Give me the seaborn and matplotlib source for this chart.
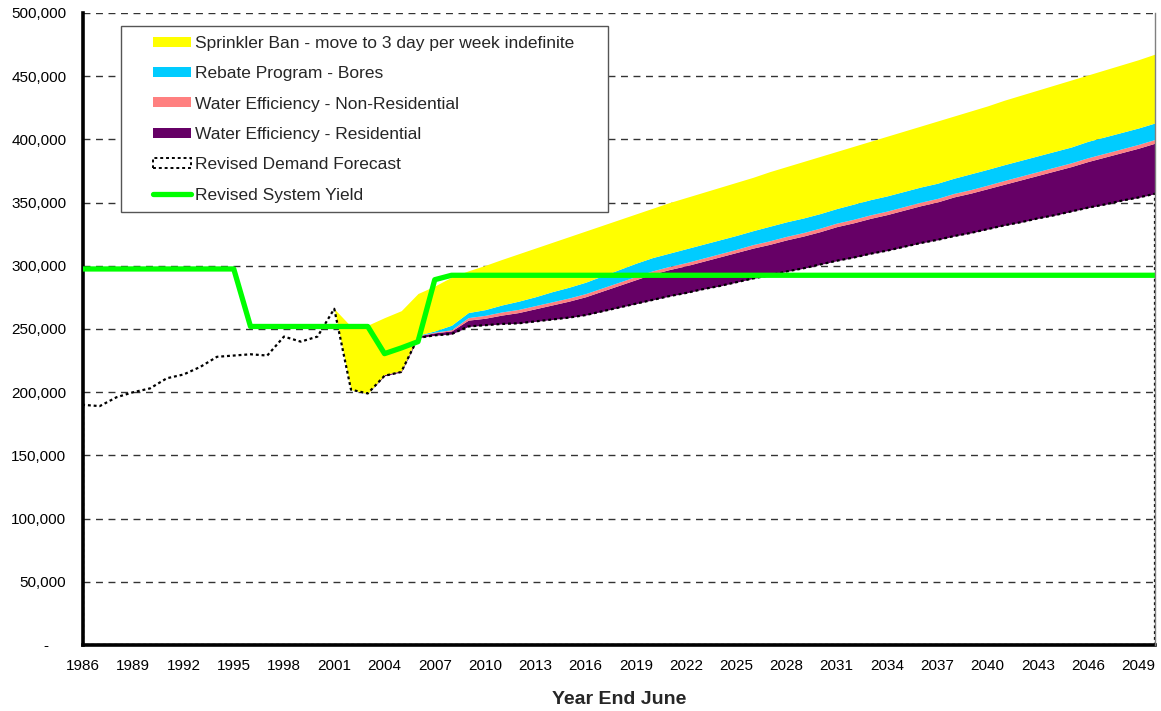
import numpy as np
import pandas as pd
import matplotlib
matplotlib.use("Agg")
import matplotlib.pyplot as plt
import seaborn as sns
from matplotlib.patches import Rectangle
from matplotlib.lines import Line2D
from matplotlib.legend_handler import HandlerBase

# ---------------- data (values in ML / year) ----------------
years = list(range(1986, 2051))

demand = [190, 189, 196, 200, 203, 211, 214, 220, 228, 229,
          230, 229, 244, 240, 244, 266, 202, 199, 213, 216,
          243, 245, 246, 252, 253, 254, 254.5, 256, 257.5, 259,
          261, 264, 267, 270, 273, 276, 278.5, 281.5, 284, 287,
          290, 292.5, 295.5, 298, 301, 304, 306.5, 309.5, 312, 315,
          318, 320.5, 323.5, 326, 329, 332, 334.5, 337.5, 340, 343,
          346, 348.5, 351.5, 354, 357]

residential = [0] * 18 + [1, 1,
               1.5, 2, 2.5, 5, 5.5, 7, 8.5, 10, 11.5, 13,
               14.5, 16, 17.5, 19, 20.5, 21, 21.5, 22, 23, 23.5,
               24, 24.5, 25, 25.5, 26, 27, 27.5, 28, 28.5, 29,
               29.5, 30, 31, 31.5, 32, 32.5, 33.5, 34, 35, 35.5,
               36.5, 37.5, 38, 39, 40]

non_residential = [0] * 20 + [0.3, 0.5, 1, 2, 2.3,
                   2.5, 2.5, 2.5, 2.5, 2.5, 2.5, 2.5, 2.5, 2.5, 2.5,
                   2.5, 2.5, 2.5, 2.5, 2.5,
                   2.8, 2.8, 2.8, 2.8, 2.8, 2.8, 2.8, 2.8, 2.8, 2.8,
                   2.8, 2.8, 2.8, 2.8, 2.8,
                   3, 3, 3, 3, 3, 3, 3, 3, 3, 3]

bores = [0] * 20 + [0.3, 1, 3.5, 4, 4.5, 5.5, 6.5, 7, 8, 8.5,
         9, 9.5, 10, 10.5, 10.5, 10.5, 11, 11, 11, 11,
         11, 11.5, 11.5, 11.5, 11.5, 11.5, 12, 12, 12, 12,
         12, 12, 12, 12.5, 12.5, 12.5, 12.5, 12.5, 12.5, 12.5,
         13, 13, 13, 13, 13]

sprinkler = [0] * 16 + [50, 54, 45, 47.5,
             33, 35.5, 38, 33, 35, 36, 37.5, 38.5, 39, 40,
             40.5, 40, 39.5, 39, 39, 40, 40.5, 41, 41.5, 42,
             42.2, 43.2, 43.7, 44.7, 45.2, 45.2, 45.7, 46.2, 47.2, 47.7,
             48.2, 49.2, 49.2, 49.7, 50.2, 51, 51.5, 52, 52.5, 53,
             52.5, 53, 53.5, 54, 54.5]

system_yield = [297.5] * 10 + [252] * 8 + [230.5, 235, 240, 289] + [292.5] * 43

xtick_years = list(range(1986, 2050, 3))
ytick_values = list(range(0, 500001, 50000))

series_labels = ["Sprinkler Ban - move to 3 day per week indefinite",
                 "Rebate Program - Bores",
                 "Water Efficiency - Non-Residential",
                 "Water Efficiency - Residential",
                 "Revised Demand Forecast",
                 "Revised System Yield"]

# ---------------- styling ----------------
sns.set_style("white")
plt.rcParams["font.family"] = ["Liberation Sans", "DejaVu Sans"]

c_sprinkler = "#FFFF00"
c_bores = "#00CCFF"
c_nonres = "#FF8080"
c_res = "#660066"
c_yield = "#00FF00"

k = 1000.0
df = pd.DataFrame({
    "year": years,
    "demand": np.array(demand) * k,
    "res": np.array(residential) * k,
    "nonres": np.array(non_residential) * k,
    "bores": np.array(bores) * k,
    "sprinkler": np.array(sprinkler) * k,
    "yield": np.array(system_yield) * k,
})

fig = plt.figure(figsize=(11.61, 7.11), dpi=100)
ax = fig.add_axes([83 / 1161, 1 - 645 / 711, (1155 - 83) / 1161, (645 - 13) / 711])

# gridlines (behind areas)
ax.set_axisbelow(True)
ax.yaxis.grid(True, color="#333333", linestyle=(0, (5, 4)), linewidth=1.0)
ax.xaxis.grid(False)

# stacked areas
ax.stackplot(df["year"], df["demand"], df["res"], df["nonres"], df["bores"], df["sprinkler"],
             colors=["none", c_res, c_nonres, c_bores, c_sprinkler], linewidth=0, zorder=2)

# demand forecast outline (dotted)
ax.fill_between(df["year"], 0, df["demand"], facecolor="none", edgecolor="black",
                linestyle=(0, (1.3, 1.3)), linewidth=1.6, zorder=3)

# system yield line
sns.lineplot(data=df, x="year", y="yield", color=c_yield, linewidth=3.8, ax=ax, zorder=4)

ax.set_xlim(1986, 2050)
ax.set_ylim(0, 500000)
ax.set_xticks(xtick_years)
ax.set_xticklabels([str(y) for y in xtick_years])
ax.set_yticks(ytick_values)
ax.set_yticklabels(["-    " if v == 0 else f"{v:,}" for v in ytick_values])

for s in ["left", "bottom"]:
    ax.spines[s].set_color("black")
    ax.spines[s].set_linewidth(2.6)
ax.spines["top"].set_visible(False)
ax.spines["right"].set_color("#808080")
ax.spines["right"].set_linewidth(1.0)
ax.spines["right"].set_zorder(5)

ax.tick_params(axis="both", which="major", direction="out", length=3, width=3,
               color="black", labelsize=11, labelcolor="black")
ax.tick_params(axis="y", pad=9)
ax.tick_params(axis="x", pad=7)

ax.set_xlabel("Year End June", fontsize=14, fontweight="bold", labelpad=13)
ax.set_ylabel("")


# ---------------- legend ----------------
class RectHandler(HandlerBase):
    def __init__(self, face, edge=None, dotted=False):
        super().__init__()
        self.face, self.edge, self.dotted = face, edge, dotted

    def create_artists(self, legend, orig_handle, xdescent, ydescent, width, height, fontsize, trans):
        x0 = -xdescent + width * 0.37
        w = width * 0.63
        h = 10 / 1.389
        y0 = -ydescent + height / 2 - h / 2
        r = Rectangle((x0, y0), w, h, facecolor=self.face,
                      edgecolor=self.edge if self.edge else "none",
                      linewidth=1.4 if self.edge else 0,
                      linestyle=(0, (1.5, 1.5)) if self.dotted else "-",
                      transform=trans)
        return [r]


class LineHandler(HandlerBase):
    def create_artists(self, legend, orig_handle, xdescent, ydescent, width, height, fontsize, trans):
        x0 = -xdescent + width * 0.37
        y = -ydescent + height / 2
        l = Line2D([x0, -xdescent + width], [y, y], color=c_yield, linewidth=3.8,
                   solid_capstyle="round", transform=trans)
        return [l]


handles = [Rectangle((0, 0), 1, 1) for _ in range(5)] + [Line2D([], [])]
handler_map = {
    handles[0]: RectHandler(c_sprinkler),
    handles[1]: RectHandler(c_bores),
    handles[2]: RectHandler(c_nonres),
    handles[3]: RectHandler(c_res),
    handles[4]: RectHandler("white", "black", dotted=True),
    handles[5]: LineHandler(),
}
leg_x0 = (121 - 83) / 1072
leg_w = (608 - 121) / 1072
leg_top = (645 - 26) / 632
leg = ax.legend(handles, series_labels, handler_map=handler_map,
                loc="upper left", bbox_to_anchor=(leg_x0, leg_top - 0.05, leg_w, 0.05),
                mode="expand",
                borderaxespad=0, fontsize=12.5, frameon=True, fancybox=False,
                edgecolor="#555555", framealpha=1, handlelength=3.47, handletextpad=0.22,
                labelspacing=0.88, borderpad=0.55)
leg.get_frame().set_linewidth(1.0)
leg.set_zorder(6)

fig.savefig("out.png", dpi=100)
